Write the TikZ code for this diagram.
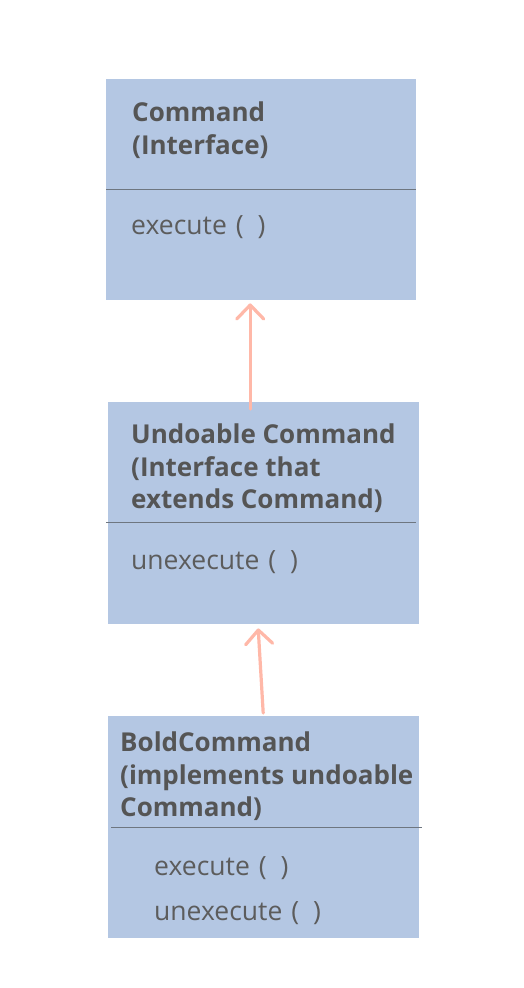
\documentclass[tikz,border=0pt]{standalone}
\usepackage{fontspec}
\setmainfont{Open Sans}
\usetikzlibrary{arrows.meta}
\definecolor{boxfill}{HTML}{B4C7E3}
\definecolor{txt}{HTML}{555555}
\definecolor{mtxt}{HTML}{5C5C5C}
\definecolor{divc}{HTML}{6E7680}
\definecolor{arrc}{HTML}{FFB8A8}
\newcommand{\parens}{\hspace{9pt}(\hspace{14pt})}
\tikzset{
  box/.style={fill=boxfill, draw=none, inner sep=0pt, anchor=north west},
  ttl/.style={anchor=base west, inner sep=0pt, text=txt, font=\fontsize{26}{26}\selectfont\bfseries},
  meth/.style={anchor=base west, inner sep=0pt, text=mtxt, font=\fontsize{26.5}{26.5}\selectfont},
  divider/.style={draw=divc, line width=1pt},
  arr/.style={draw=arrc, line width=3.2pt, line cap=round, -{Straight Barb[length=14pt,width=27pt,line width=3.2pt,round]}}
}
\begin{document}
\begin{tikzpicture}[x=1pt,y=-1pt]
\useasboundingbox (0,0) rectangle (524,988);
\fill[white] (0,0) rectangle (524,988);
% Box 1
\node[box, minimum width=310pt, minimum height=221pt] (b1) at (106,79) {};
\coordinate (d1a) at (106,189.5);
\coordinate (d1b) at (416,189.5);
\draw[divider] (d1a) -- (d1b);
\node[ttl] (t1a) at (132,121) {Command};
\node[ttl] (t1b) at (132,154) {(Interface)};
\node[meth] (m1) at (131,234) {execute\parens};
% Box 2
\node[box, minimum width=311pt, minimum height=222pt] (b2) at (108,402) {};
\coordinate (d2a) at (106,522.5);
\coordinate (d2b) at (416,522.5);
\draw[divider] (d2a) -- (d2b);
\node[ttl] (t2a) at (131,443) {Undoable Command};
\node[ttl] (t2b) at (131,476) {(Interface that};
\node[ttl] (t2c) at (131,508) {extends Command)};
\node[meth] (m2) at (131,569) {unexecute\parens};
% Box 3
\node[box, minimum width=311pt, minimum height=222pt] (b3) at (108,716) {};
\coordinate (d3a) at (111,827.5);
\coordinate (d3b) at (422,827.5);
\draw[divider] (d3a) -- (d3b);
\node[ttl] (t3a) at (120,751) {BoldCommand};
\node[ttl] (t3b) at (120,784) {(implements undoable};
\node[ttl] (t3c) at (120,816) {Command)};
\node[meth] (m3a) at (154,875) {execute\parens};
\node[meth] (m3b) at (154,920) {unexecute\parens};
% Arrows
\draw[arr] ([xshift=-13.5pt,yshift=-7pt]b2.north) -- ([xshift=-11pt,yshift=-3pt]b1.south);
\draw[arr] ([xshift=-0.5pt,yshift=3pt]b3.north) -- ([xshift=-5.5pt,yshift=-4pt]b2.south);
\end{tikzpicture}
\end{document}
